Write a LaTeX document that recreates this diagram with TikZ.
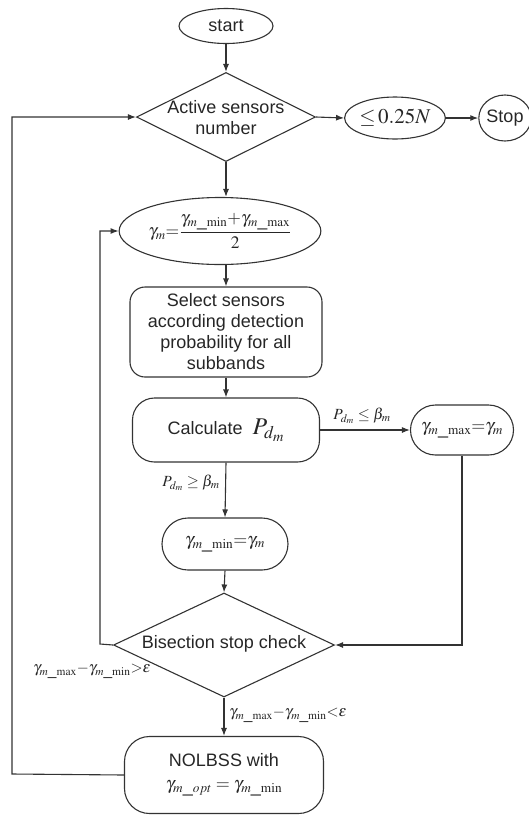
\documentclass[tikz,border=0pt]{standalone}
\usepackage{mathptmx}
\usepackage[no-math]{fontspec}
\setmainfont{Liberation Sans}
\usetikzlibrary{shapes.geometric,arrows.meta}

\begin{document}
\begin{tikzpicture}[x=1pt,y=-1pt,
  line/.style={draw=black!80, line width=1.1pt},
  arr/.style={line, -{Latex[length=8pt,width=6pt]}},
  oval/.style={ellipse, draw=black!80, line width=1.1pt, inner sep=0pt},
  dia/.style={diamond, draw=black!80, line width=1.1pt, inner sep=0pt},
  proc/.style={rectangle, draw=black!80, line width=1.1pt, inner sep=0pt, align=center},
  txt/.style={font=\fontsize{18}{21}\selectfont, text=black!85, align=center},
  lab/.style={font=\fontsize{15.5}{18}\selectfont, text=black!85, inner sep=0pt}
]
\useasboundingbox (0,0) rectangle (529,815);

% terminals and decisions
\node[oval, txt, minimum width=94pt, minimum height=35pt] (start) at (226,26) {start};
\node[dia, minimum width=179pt, minimum height=89pt] (d1) at (226,117) {};
\node[txt, inner sep=0pt] (d1t) at (226,118) {Active sensors\\number};
\node[oval, minimum width=95pt, minimum height=42pt, font=\fontsize{21}{24}\selectfont, text=black!85] (le) at (395,118) {$\leq\! 0.25N$};
\node[oval, txt, minimum width=46pt, minimum height=46pt] (stop) at (505,118) {Stop};

% bisection loop
\node[oval, minimum width=172pt, minimum height=67pt, font=\fontsize{17.5}{20}\selectfont, text=black!85] (e2) at (220,231)
  {$\displaystyle\gamma_m{=}\frac{\gamma_{m\_\mathrm{min}}{+}\gamma_{m\_\mathrm{max}}}{2}$};
\node[proc, txt, rounded corners=15pt, minimum width=192pt, minimum height=90pt] (sel) at (226,332)
  {Select sensors\\according detection\\probability for all\\subbands};
\node[proc, txt, rounded corners=22pt, minimum width=187pt, minimum height=64pt] (calc) at (226,430)
  {Calculate\ \ {\fontsize{24}{26}\selectfont$P_{d_m}$}};
\node[proc, rounded corners=25pt, minimum width=103pt, minimum height=50pt, font=\fontsize{18}{20}\selectfont, text=black!85] (gmax) at (462,430)
  {$\gamma_{m\_\mathrm{max}}{=}\gamma_m$};
\node[proc, rounded corners=26pt, minimum width=126pt, minimum height=52pt, font=\fontsize{18}{20}\selectfont, text=black!85] (gmin) at (225,544)
  {$\gamma_{m\_\mathrm{min}}{=}\gamma_m$};
\node[dia, minimum width=221pt, minimum height=104pt] (d2) at (224,645) {};
\node[txt, inner sep=0pt] (d2t) at (224,644) {Bisection stop check};
\node[proc, txt, rounded corners=25pt, minimum width=199pt, minimum height=77pt] (nol) at (224,775)
  {NOLBSS with\\[2pt]{\fontsize{18}{20}\selectfont$\gamma_{m\_opt}=\gamma_{m\_\mathrm{min}}$}};

% connectors
\draw[arr] (start) -- (d1.north);
\draw[arr] (d1.east) -- (le.west);
\draw[arr] (le.east) -- (stop.west);
\draw[arr] (d1.south) -- (d1.south |- e2.north);
\draw[arr] (sel.north |- e2.south) -- (sel.north);
\draw[arr] (sel.south) -- (calc.north);
\draw[arr] (calc.east) -- (gmax.west);
\draw[arr] (calc.south) -- (gmin.north);
\draw[arr] (gmin.south) -- (d2.north);
\draw[arr] (gmax.south) |- (d2.east);
\coordinate (lp) at (100,644);
\draw[arr] (d2.west) -- (lp) |- (e2.west);
\draw[arr] (d2.south) -- (nol.north);
\coordinate (op) at (12,774);
\draw[arr] (nol.west) -- (op) |- (d1.west);

% branch labels
\node[lab] (l1) at (362,416) {$P_{d_m}\leq\beta_m$};
\node[lab] (l2) at (191,483) {$P_{d_m}\geq\beta_m$};
\node[lab] (l3) at (92,671) {$\gamma_{m\_\mathrm{max}}{-}\gamma_{m\_\mathrm{min}}{>}\varepsilon$};
\node[lab] (l4) at (288,715) {$\gamma_{m\_\mathrm{max}}{-}\gamma_{m\_\mathrm{min}}{<}\varepsilon$};
\end{tikzpicture}
\end{document}
